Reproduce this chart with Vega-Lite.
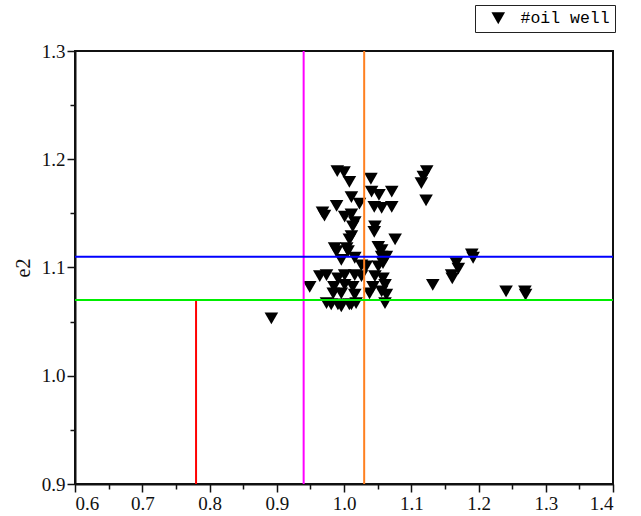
{
  "$schema": "https://vega.github.io/schema/vega-lite/v6.json",
  "width": 538,
  "height": 433,
  "autosize": "none",
  "padding": {"left": 75, "top": 51, "right": 28, "bottom": 32},
  "background": "white",
  "config": {
    "font": "Liberation Serif",
    "view": {"stroke": "#111", "strokeWidth": 2},
    "axis": {
      "grid": false,
      "domainColor": "#111",
      "domainWidth": 2,
      "tickColor": "#111",
      "tickWidth": 1.5,
      "tickSize": 8,
      "labelFont": "Liberation Serif",
      "labelFontSize": 19,
      "labelColor": "#111",
      "labelPadding": 2,
      "titleFont": "Liberation Serif",
      "titleFontSize": 20,
      "titleFontWeight": "normal",
      "titleColor": "#111"
    }
  },
  "datasets": {
    "wells": [
      {"e1": 0.990, "e2": 1.189, "type": "#oil well"},
      {"e1": 1.000, "e2": 1.188, "type": "#oil well"},
      {"e1": 1.008, "e2": 1.179, "type": "#oil well"},
      {"e1": 1.040, "e2": 1.182, "type": "#oil well"},
      {"e1": 1.041, "e2": 1.170, "type": "#oil well"},
      {"e1": 1.052, "e2": 1.167, "type": "#oil well"},
      {"e1": 1.071, "e2": 1.170, "type": "#oil well"},
      {"e1": 1.011, "e2": 1.165, "type": "#oil well"},
      {"e1": 0.989, "e2": 1.157, "type": "#oil well"},
      {"e1": 0.971, "e2": 1.148, "type": "#oil well"},
      {"e1": 0.968, "e2": 1.151, "type": "#oil well"},
      {"e1": 1.023, "e2": 1.159, "type": "#oil well"},
      {"e1": 1.045, "e2": 1.156, "type": "#oil well"},
      {"e1": 1.056, "e2": 1.155, "type": "#oil well"},
      {"e1": 1.071, "e2": 1.156, "type": "#oil well"},
      {"e1": 1.001, "e2": 1.147, "type": "#oil well"},
      {"e1": 1.011, "e2": 1.149, "type": "#oil well"},
      {"e1": 1.016, "e2": 1.142, "type": "#oil well"},
      {"e1": 1.013, "e2": 1.138, "type": "#oil well"},
      {"e1": 1.046, "e2": 1.138, "type": "#oil well"},
      {"e1": 1.045, "e2": 1.133, "type": "#oil well"},
      {"e1": 1.011, "e2": 1.129, "type": "#oil well"},
      {"e1": 1.008, "e2": 1.126, "type": "#oil well"},
      {"e1": 1.076, "e2": 1.126, "type": "#oil well"},
      {"e1": 0.986, "e2": 1.118, "type": "#oil well"},
      {"e1": 0.989, "e2": 1.115, "type": "#oil well"},
      {"e1": 1.004, "e2": 1.118, "type": "#oil well"},
      {"e1": 1.006, "e2": 1.115, "type": "#oil well"},
      {"e1": 1.051, "e2": 1.119, "type": "#oil well"},
      {"e1": 1.056, "e2": 1.116, "type": "#oil well"},
      {"e1": 0.996, "e2": 1.107, "type": "#oil well"},
      {"e1": 1.016, "e2": 1.109, "type": "#oil well"},
      {"e1": 1.056, "e2": 1.110, "type": "#oil well"},
      {"e1": 1.063, "e2": 1.110, "type": "#oil well"},
      {"e1": 1.026, "e2": 1.102, "type": "#oil well"},
      {"e1": 1.033, "e2": 1.101, "type": "#oil well"},
      {"e1": 1.051, "e2": 1.101, "type": "#oil well"},
      {"e1": 1.058, "e2": 1.104, "type": "#oil well"},
      {"e1": 0.974, "e2": 1.093, "type": "#oil well"},
      {"e1": 0.964, "e2": 1.092, "type": "#oil well"},
      {"e1": 1.001, "e2": 1.093, "type": "#oil well"},
      {"e1": 1.016, "e2": 1.093, "type": "#oil well"},
      {"e1": 1.026, "e2": 1.092, "type": "#oil well"},
      {"e1": 0.991, "e2": 1.090, "type": "#oil well"},
      {"e1": 1.046, "e2": 1.092, "type": "#oil well"},
      {"e1": 1.058, "e2": 1.090, "type": "#oil well"},
      {"e1": 0.949, "e2": 1.082, "type": "#oil well"},
      {"e1": 0.985, "e2": 1.082, "type": "#oil well"},
      {"e1": 1.001, "e2": 1.084, "type": "#oil well"},
      {"e1": 1.013, "e2": 1.082, "type": "#oil well"},
      {"e1": 1.043, "e2": 1.082, "type": "#oil well"},
      {"e1": 1.061, "e2": 1.084, "type": "#oil well"},
      {"e1": 0.984, "e2": 1.076, "type": "#oil well"},
      {"e1": 0.996, "e2": 1.076, "type": "#oil well"},
      {"e1": 1.016, "e2": 1.075, "type": "#oil well"},
      {"e1": 1.038, "e2": 1.076, "type": "#oil well"},
      {"e1": 1.056, "e2": 1.078, "type": "#oil well"},
      {"e1": 1.063, "e2": 1.075, "type": "#oil well"},
      {"e1": 0.974, "e2": 1.067, "type": "#oil well"},
      {"e1": 0.991, "e2": 1.066, "type": "#oil well"},
      {"e1": 1.008, "e2": 1.066, "type": "#oil well"},
      {"e1": 1.018, "e2": 1.067, "type": "#oil well"},
      {"e1": 1.061, "e2": 1.067, "type": "#oil well"},
      {"e1": 0.892, "e2": 1.053, "type": "#oil well"},
      {"e1": 0.981, "e2": 1.066, "type": "#oil well"},
      {"e1": 0.996, "e2": 1.064, "type": "#oil well"},
      {"e1": 1.011, "e2": 1.066, "type": "#oil well"},
      {"e1": 1.123, "e2": 1.189, "type": "#oil well"},
      {"e1": 1.118, "e2": 1.184, "type": "#oil well"},
      {"e1": 1.115, "e2": 1.178, "type": "#oil well"},
      {"e1": 1.122, "e2": 1.162, "type": "#oil well"},
      {"e1": 1.190, "e2": 1.112, "type": "#oil well"},
      {"e1": 1.192, "e2": 1.109, "type": "#oil well"},
      {"e1": 1.167, "e2": 1.104, "type": "#oil well"},
      {"e1": 1.170, "e2": 1.099, "type": "#oil well"},
      {"e1": 1.160, "e2": 1.093, "type": "#oil well"},
      {"e1": 1.161, "e2": 1.090, "type": "#oil well"},
      {"e1": 1.132, "e2": 1.084, "type": "#oil well"},
      {"e1": 1.241, "e2": 1.078, "type": "#oil well"},
      {"e1": 1.269, "e2": 1.078, "type": "#oil well"},
      {"e1": 1.270, "e2": 1.075, "type": "#oil well"}
    ]
  },
  "resolve": {"axis": {"x": "independent", "y": "independent"}},
  "layer": [
    {
      "data": {"name": "wells"},
      "mark": {"type": "point", "filled": true, "color": "black", "opacity": 1, "size": 185},
      "encoding": {
        "x": {"field": "e1", "type": "quantitative", "scale": {"domain": [0.6, 1.4], "nice": false, "zero": false},
              "axis": {"title": null, "orient": "bottom", "values": [0.6, 0.7, 0.8, 0.9, 1.0, 1.1, 1.2, 1.3, 1.4], "format": ".1f",
                       "labelFont": "Liberation Serif", "labelFontSize": 19, "tickSize": 8}},
        "y": {"field": "e2", "type": "quantitative", "scale": {"domain": [0.9, 1.3], "nice": false, "zero": false},
              "axis": {"title": "e2", "orient": "left", "values": [0.9, 1.0, 1.1, 1.2, 1.3], "format": ".1f", "titlePadding": 8,
                       "labelFont": "Liberation Serif", "labelFontSize": 19, "titleFont": "Liberation Serif", "titleFontSize": 20, "tickSize": 8}},
        "shape": {"field": "type", "type": "nominal", "scale": {"range": ["triangle-down"]},
                  "legend": {"title": null, "orient": "none", "legendX": 400, "legendY": -46,
                             "strokeColor": "#222", "fillColor": "white", "padding": 5,
                             "symbolSize": 185, "symbolFillColor": "black", "symbolStrokeColor": "black", "symbolStrokeWidth": 0,
                             "symbolOffset": 10, "labelOffset": 14,
                             "labelFont": "Liberation Mono", "labelFontSize": 16.5, "labelColor": "black"}}
      }
    },
    {
      "data": {"values": [{"e1": 0.78, "lo": 0.9, "hi": 1.07}]},
      "mark": {"type": "rule", "color": "#ff0000", "strokeWidth": 2},
      "encoding": {
        "x": {"field": "e1", "type": "quantitative",
              "axis": {"title": null, "orient": "bottom", "values": [0.65, 0.75, 0.85, 0.95, 1.05, 1.15, 1.25, 1.35], "labels": false, "domain": false, "tickSize": 5}},
        "y": {"field": "lo", "type": "quantitative",
              "axis": {"title": null, "orient": "left", "values": [0.95, 1.05, 1.15, 1.25], "labels": false, "domain": false, "tickSize": 5}},
        "y2": {"field": "hi"}
      }
    },
    {
      "data": {"values": [{"e1": 0.94}]},
      "mark": {"type": "rule", "color": "#ff00ff", "strokeWidth": 2},
      "encoding": {"x": {"field": "e1", "type": "quantitative", "axis": null}}
    },
    {
      "data": {"values": [{"e1": 1.03}]},
      "mark": {"type": "rule", "color": "#ff8020", "strokeWidth": 2},
      "encoding": {"x": {"field": "e1", "type": "quantitative", "axis": null}}
    },
    {
      "data": {"values": [{"e2": 1.11}]},
      "mark": {"type": "rule", "color": "#0000ff", "strokeWidth": 2},
      "encoding": {"y": {"field": "e2", "type": "quantitative", "axis": null}}
    },
    {
      "data": {"values": [{"e2": 1.07}]},
      "mark": {"type": "rule", "color": "#00ee00", "strokeWidth": 2},
      "encoding": {"y": {"field": "e2", "type": "quantitative", "axis": null}}
    }
  ]
}
